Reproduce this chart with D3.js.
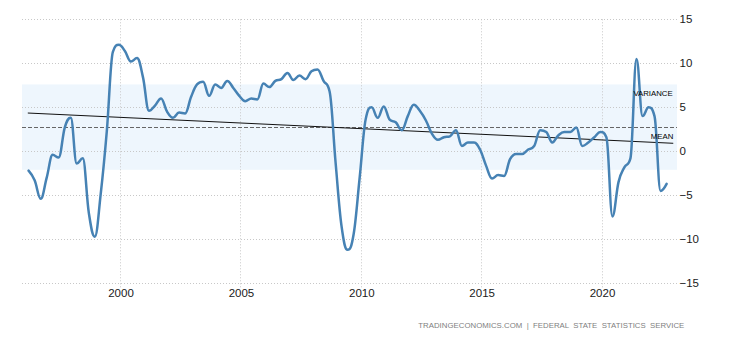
<!DOCTYPE html>
<html>
<head>
<meta charset="utf-8">
<script src="https://cdn.jsdelivr.net/npm/d3@7"></script>
<style>
  html, body { margin: 0; padding: 0; background: #fff; }
  svg { display: block; font-family: "Liberation Sans", Arial, sans-serif; }
</style>
</head>
<body>
<svg id="chart" width="730" height="340"></svg>
<script>
// ---- data (Russia GDP annual growth rate, quarterly, %) ----
const startYear = 1996;
const gdpGrowth = [
  -2.2, -3.3, -5.4, -3.0,    // 1996
  -0.4, -0.7, 2.7, 3.8,      // 1997
  -1.4, -0.8, -7.0, -9.7,    // 1998
  -4.8, 2.3, 11.3, 12.1,     // 1999
  11.4, 10.2, 10.6, 8.4,     // 2000
  4.6, 5.2, 6.0, 4.5,        // 2001
  3.8, 4.4, 4.3, 6.2,        // 2002
  7.6, 7.9, 6.3, 7.6,        // 2003
  7.2, 8.0, 7.2, 6.3,        // 2004
  5.7, 6.0, 5.9, 7.7,        // 2005
  7.3, 8.0, 8.2, 8.9,        // 2006
  8.1, 8.6, 8.2, 9.1,        // 2007
  9.3, 8.0, 6.8, -1.3,       // 2008
  -8.5, -11.2, -9.4, -3.0,   // 2009
  3.6, 5.0, 3.8, 5.1,        // 2010
  3.6, 3.3, 2.4, 4.0,        // 2011
  5.3, 4.6, 3.5, 2.0,        // 2012
  1.3, 1.6, 1.7, 2.4,        // 2013
  0.6, 1.0, 1.0, 0.2,        // 2014
  -1.6, -3.1, -2.7, -2.8,    // 2015
  -0.9, -0.3, -0.3, 0.2,     // 2016
  0.6, 2.4, 2.2, 1.0,        // 2017
  1.8, 2.2, 2.2, 2.7,        // 2018
  0.6, 1.0, 1.6, 2.2,        // 2019
  1.6, -7.4, -3.5, -1.8,     // 2020
  -0.8, 10.5, 4.0, 5.0,      // 2021
  4.0, -4.5, -3.7            // 2022
];
const meanValue = 2.73;
const varianceHigh = 7.6;
const varianceLow = -2.1;
const trendStart = [1996.17, 4.35];
const trendEnd = [2022.98, 0.91];
const xTickYears = [2000, 2005, 2010, 2015, 2020];
const yTickValues = [15, 10, 5, 0, -5, -10, -15];
const sourceText = "TRADINGECONOMICS.COM  |  FEDERAL  STATE  STATISTICS  SERVICE";

(function () {
  // ---- build series ----
  const series = gdpGrowth.map((v, i) => {
    const yr = startYear + Math.floor(i / 4);
    const q = i % 4;
    return { date: new Date(yr, q * 3 + 2, 15), value: v };
  });
  const fracDate = f => {
    const yy = Math.floor(f);
    const s = new Date(yy, 0, 1).getTime(), e = new Date(yy + 1, 0, 1).getTime();
    return new Date(s + (f - yy) * (e - s));
  };

  // Spline curve in the style of a smoothed line chart (clamped control points)
  function SplineCurve(context) { this._context = context; }
  SplineCurve.prototype = {
    areaStart() {}, areaEnd() {},
    lineStart() { this._pts = []; },
    point(px, py) { this._pts.push([+px, +py]); },
    lineEnd() {
      const p = this._pts, c = this._context, n = p.length;
      if (!n) return;
      const sm = 1.5, den = sm + 1;
      const L = [], R = [];
      for (let i = 0; i < n; i++) {
        if (i === 0 || i === n - 1) { L[i] = p[i].slice(); R[i] = p[i].slice(); continue; }
        const [x0, y0] = p[i - 1], [x1, y1] = p[i], [x2, y2] = p[i + 1];
        const lx = (sm * x1 + x0) / den, rx = (sm * x1 + x2) / den;
        let ly = (sm * y1 + y0) / den, ry = (sm * y1 + y2) / den;
        if (rx !== lx) {
          const corr = ((ry - ly) * (rx - x1)) / (rx - lx) + y1 - ry;
          ly += corr; ry += corr;
        }
        if (ly > y0 && ly > y1) { ly = Math.max(y0, y1); ry = 2 * y1 - ly; }
        else if (ly < y0 && ly < y1) { ly = Math.min(y0, y1); ry = 2 * y1 - ly; }
        if (ry > y2 && ry > y1) { ry = Math.max(y2, y1); ly = 2 * y1 - ry; }
        else if (ry < y2 && ry < y1) { ry = Math.min(y2, y1); ly = 2 * y1 - ry; }
        L[i] = [lx, ly]; R[i] = [rx, ry];
      }
      c.moveTo(p[0][0], p[0][1]);
      for (let i = 1; i < n; i++) {
        c.bezierCurveTo(R[i - 1][0], R[i - 1][1], L[i][0], L[i][1], p[i][0], p[i][1]);
      }
    }
  };
  const curveSpline = ctx => new SplineCurve(ctx);

  // ---- layout ----
  const svg = d3.select("#chart");
  const pLeft = 22, pRight = 677, pTop = 19.3, pBottom = 283.3;

  const x = d3.scaleTime()
    .domain([new Date(2000, 0, 1), new Date(2020, 0, 1)])
    .range([120, 601.5]);
  const y = d3.scaleLinear().domain([-15, 15]).range([pBottom, pTop]);

  // variance band
  svg.append("rect")
    .attr("x", pLeft).attr("width", pRight - pLeft)
    .attr("y", y(varianceHigh)).attr("height", y(varianceLow) - y(varianceHigh))
    .attr("fill", "#eef6fd");

  // horizontal gridlines
  svg.append("g").selectAll("line").data(yTickValues).join("line")
    .attr("x1", pLeft).attr("x2", pRight)
    .attr("y1", d => Math.round(y(d)) + 0.5).attr("y2", d => Math.round(y(d)) + 0.5)
    .attr("stroke", "#c8c8c8").attr("stroke-width", 1).attr("stroke-dasharray", "1,2");

  // vertical gridlines
  svg.append("g").selectAll("line").data(xTickYears).join("line")
    .attr("x1", d => Math.round(x(new Date(d, 0, 1))) + 0.5)
    .attr("x2", d => Math.round(x(new Date(d, 0, 1))) + 0.5)
    .attr("y1", pTop).attr("y2", 289)
    .attr("stroke", "#c8c8c8").attr("stroke-width", 1).attr("stroke-dasharray", "1,2");

  // mean line
  svg.append("line")
    .attr("x1", pLeft).attr("x2", pRight)
    .attr("y1", Math.round(y(meanValue)) + 0.5).attr("y2", Math.round(y(meanValue)) + 0.5)
    .attr("stroke", "#666").attr("stroke-width", 1).attr("stroke-dasharray", "4,2");

  // y axis labels
  const yAxis = d3.axisRight(y).tickValues(yTickValues).tickSize(0).tickPadding(0)
    .tickFormat(d3.format("d"));
  const gy = svg.append("g").attr("transform", "translate(679.5,0)").call(yAxis);
  gy.select(".domain").remove();
  gy.selectAll("text").attr("font-size", 11.5).attr("fill", "#1a1a1a")
    .attr("font-family", "Liberation Sans, Arial, sans-serif");

  // x axis labels
  const xAxis = d3.axisBottom(x).tickValues(xTickYears.map(d => new Date(d, 0, 1)))
    .tickSize(0).tickPadding(0).tickFormat(d3.timeFormat("%Y"));
  const gx = svg.append("g").attr("transform", "translate(0.5,289)").call(xAxis);
  gx.select(".domain").remove();
  gx.selectAll("text").attr("font-size", 11.5).attr("fill", "#1a1a1a")
    .attr("font-family", "Liberation Sans, Arial, sans-serif");

  // trend line
  svg.append("line")
    .attr("x1", x(fracDate(trendStart[0]))).attr("y1", y(trendStart[1]))
    .attr("x2", x(fracDate(trendEnd[0]))).attr("y2", y(trendEnd[1]))
    .attr("stroke", "#111").attr("stroke-width", 1);

  // data line
  const line = d3.line().x(d => x(d.date)).y(d => y(d.value)).curve(curveSpline);
  svg.append("path").datum(series)
    .attr("d", line)
    .attr("fill", "none").attr("stroke", "#4682b4").attr("stroke-width", 2.5)
    .attr("stroke-linejoin", "round").attr("stroke-linecap", "round");

  // labels
  svg.append("text").attr("x", 672.7).attr("y", y(varianceHigh) + 11.5)
    .attr("text-anchor", "end").attr("font-size", 7.8).attr("fill", "#000")
    .text("VARIANCE");
  svg.append("text").attr("x", 673.3).attr("y", y(meanValue) + 11.8)
    .attr("text-anchor", "end").attr("font-size", 7.8).attr("fill", "#000")
    .text("MEAN");

  // source footer
  svg.append("text").attr("x", 418.3).attr("y", 327.8)
    .attr("font-size", 7.8).attr("fill", "#808080")
    .attr("textLength", 266).attr("lengthAdjust", "spacing")
    .style("white-space", "pre")
    .text(sourceText);
})();
</script>
</body>
</html>
